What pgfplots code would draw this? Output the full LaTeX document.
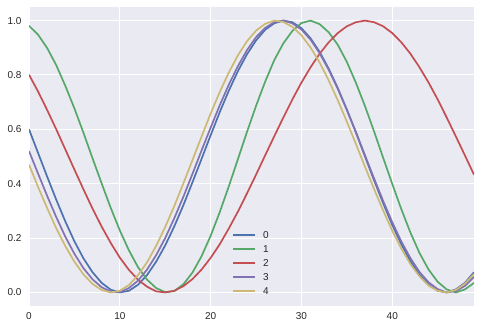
\documentclass[border=0pt]{standalone}
\usepackage{pgfplots}
\usepackage{pgfplotstable}
\usepackage{fontspec}
\setmainfont{Liberation Sans}
\pgfplotsset{compat=1.18}
\definecolor{sbblue}{HTML}{4C72B0}
\definecolor{sbgreen}{HTML}{55A868}
\definecolor{sbred}{HTML}{C44E52}
\definecolor{sbpurple}{HTML}{8172B2}
\definecolor{sbyellow}{HTML}{CCB974}
\definecolor{sbbg}{HTML}{EAEAF2}
\definecolor{sbtext}{HTML}{262626}
\pgfplotstableread{
x c0 c1 c2 c3 c4
0 0.600 0.981 0.801 0.520 0.470
1 0.513 0.948 0.739 0.437 0.388
2 0.426 0.899 0.671 0.355 0.310
3 0.341 0.836 0.600 0.277 0.236
4 0.261 0.760 0.526 0.205 0.170
5 0.188 0.677 0.452 0.142 0.113
6 0.125 0.587 0.379 0.089 0.066
7 0.074 0.493 0.308 0.048 0.031
8 0.035 0.401 0.242 0.019 0.009
9 0.010 0.311 0.182 0.003 0.000
10 0.000 0.228 0.128 0.001 0.006
11 0.006 0.155 0.083 0.016 0.027
12 0.028 0.093 0.047 0.043 0.063
13 0.064 0.047 0.021 0.084 0.111
14 0.113 0.016 0.004 0.137 0.171
15 0.173 0.001 0.000 0.200 0.241
16 0.243 0.005 0.006 0.273 0.318
17 0.321 0.030 0.023 0.352 0.401
18 0.405 0.073 0.049 0.436 0.487
19 0.491 0.133 0.084 0.522 0.573
20 0.578 0.208 0.127 0.606 0.658
21 0.663 0.295 0.177 0.688 0.737
22 0.742 0.390 0.235 0.764 0.809
23 0.814 0.490 0.297 0.832 0.872
24 0.876 0.590 0.364 0.891 0.924
25 0.927 0.686 0.433 0.939 0.963
26 0.966 0.775 0.504 0.973 0.988
27 0.990 0.854 0.574 0.994 1.000
28 1.000 0.916 0.643 1.000 0.995
29 0.994 0.962 0.710 0.990 0.977
30 0.972 0.991 0.772 0.967 0.946
31 0.935 1.000 0.828 0.930 0.901
32 0.885 0.987 0.878 0.880 0.846
33 0.823 0.957 0.920 0.819 0.780
34 0.752 0.911 0.954 0.749 0.707
35 0.672 0.848 0.979 0.672 0.628
36 0.588 0.771 0.994 0.590 0.546
37 0.500 0.685 1.000 0.504 0.462
38 0.412 0.592 0.994 0.419 0.380
39 0.328 0.495 0.979 0.336 0.301
40 0.248 0.399 0.954 0.258 0.227
41 0.177 0.306 0.920 0.187 0.161
42 0.115 0.220 0.878 0.126 0.104
43 0.065 0.145 0.828 0.075 0.059
44 0.028 0.084 0.772 0.037 0.025
45 0.006 0.039 0.710 0.012 0.006
46 0.000 0.011 0.643 0.000 0.000
47 0.011 0.000 0.574 0.005 0.009
48 0.035 0.011 0.504 0.024 0.032
49 0.074 0.035 0.433 0.057 0.068
}\datatable
\begin{document}
\begin{tikzpicture}
\path[use as bounding box] (-29bp,-23bp) rectangle (452bp,306bp);
\begin{axis}[
  at={(0,0)}, anchor=south west,
  scale only axis,
  width=445bp, height=299bp,
  xmin=0, xmax=49, ymin=-0.05, ymax=1.05,
  xtick={0,10,20,30,40},
  ytick={0,0.2,0.4,0.6,0.8,1.0},
  /pgf/number format/assume math mode=true,
  yticklabel style={/pgf/number format/fixed, /pgf/number format/fixed zerofill, /pgf/number format/precision=1, xshift=-4bp},
  every tick label/.append style={font=\fontsize{10bp}{12bp}\selectfont, text=sbtext},
  xticklabel style={yshift=-3bp},
  major tick length=0pt,
  axis line style={draw=none},
  axis background/.style={fill=sbbg},
  grid=major,
  major grid style={white, line width=1bp},
  every axis plot/.append style={line width=1.7bp, mark=none},
  legend style={at={(0.449,0.262)}, anchor=north west, draw=none, fill=none,
    font=\fontsize{10bp}{12bp}\selectfont, text=sbtext,
    nodes={inner sep=1bp, text height=7.5bp, text depth=0bp},
    row sep=4.5bp,
    /tikz/every odd column/.append style={column sep=6bp}},
  legend cell align=left,
  legend image code/.code={\draw[#1, line width=2.2bp] (0bp,0bp) -- (22bp,0bp);},
]
\addplot[sbblue] table[x=x, y=c0] {\datatable};
\addlegendentry{0}
\addplot[sbgreen] table[x=x, y=c1] {\datatable};
\addlegendentry{1}
\addplot[sbred] table[x=x, y=c2] {\datatable};
\addlegendentry{2}
\addplot[sbpurple] table[x=x, y=c3] {\datatable};
\addlegendentry{3}
\addplot[sbyellow] table[x=x, y=c4] {\datatable};
\addlegendentry{4}
\end{axis}
\end{tikzpicture}
\end{document}
